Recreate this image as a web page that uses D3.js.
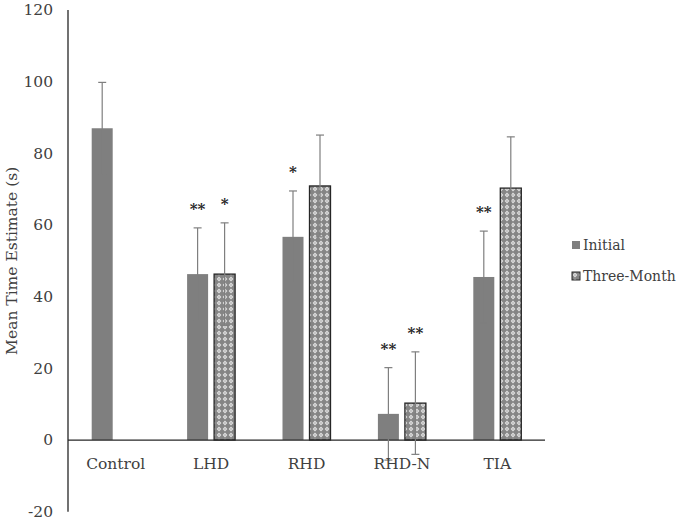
<!DOCTYPE html>
<html>
<head>
<meta charset="utf-8">
<script src="https://cdn.jsdelivr.net/npm/d3@7"></script>
<style>
  body { margin: 0; background: #fff; }
  text { font-family: "DejaVu Serif", serif; fill: #404040; }
</style>
</head>
<body>
<div id="chart"></div>
<script>
// data
var groups = ["Control", "LHD", "RHD", "RHD-N", "TIA"];
var initialMean = [87, 46.3, 56.7, 7.3, 45.5];
var initialErr = [12.8, 12.9, 12.8, 12.9, 12.8];
var threeMean = [null, 46.3, 70.9, 10.3, 70.3];
var threeErr = [null, 14.3, 14.2, 14.3, 14.3];
var initialStars = ["", "**", "*", "**", "**"];
var threeStars = ["", "*", "", "**", ""];
var yTicks = [-20, 0, 20, 40, 60, 80, 100, 120];
var seriesNames = ["Initial", "Three-Month"];

var width = 685, height = 523;

var svg = d3.select("#chart").append("svg")
	.attr("width", width)
	.attr("height", height);

var defs = svg.append("defs");
var pat = defs.append("pattern")
	.attr("id", "checks")
	.attr("patternUnits", "userSpaceOnUse")
	.attr("width", 6)
	.attr("height", 6);
pat.append("rect").attr("width", 6).attr("height", 6).attr("fill", "#858585");
pat.append("path")
	.attr("d", "M3,0.6 L5.4,3 L3,5.4 L0.6,3 Z")
	.attr("fill", "#e0e0e0");
pat.append("rect").attr("x", 2.4).attr("y", 2.4).attr("width", 1.2).attr("height", 1.2).attr("fill", "#9a9a9a");

var x = d3.scaleBand()
	.domain(groups)
	.range([68, 545]);

var y = d3.scaleLinear()
	.domain([-20, 120])
	.range([511.7, 10]);

var barW = 21, gap = 6;

// y axis line
svg.append("line")
	.attr("x1", 68).attr("x2", 68)
	.attr("y1", y(120)).attr("y2", y(-20))
	.attr("stroke", "#262626").attr("stroke-width", 1.3);

// y tick labels
svg.selectAll(".ytick")
	.data(yTicks)
	.enter()
	.append("text")
	.attr("x", 53)
	.attr("y", function(d) { return y(d); })
	.attr("dy", "0.35em")
	.attr("text-anchor", "end")
	.style("font-size", "15.5px")
	.text(function(d) { return d; });

// y axis title
svg.append("text")
	.attr("transform", "translate(17," + y(50) + ") rotate(-90)")
	.attr("text-anchor", "middle")
	.style("font-size", "15.5px")
	.text("Mean Time Estimate (s)");

function xInit(i) { return x(groups[i]) + x.bandwidth() / 2 - gap / 2 - barW; }
function xThree(i) { return x(groups[i]) + x.bandwidth() / 2 + gap / 2; }

var idx = d3.range(groups.length);

// initial bars
svg.selectAll(".bar-init")
	.data(idx)
	.enter()
	.append("rect")
	.attr("x", function(i) { return xInit(i); })
	.attr("y", function(i) { return y(initialMean[i]); })
	.attr("width", barW)
	.attr("height", function(i) { return y(0) - y(initialMean[i]); })
	.attr("fill", "#7f7f7f");

// three-month bars
var idx3 = idx.filter(function(i) { return threeMean[i] != null; });
svg.selectAll(".bar-three")
	.data(idx3)
	.enter()
	.append("rect")
	.attr("x", function(i) { return xThree(i); })
	.attr("y", function(i) { return y(threeMean[i]); })
	.attr("width", barW)
	.attr("height", function(i) { return y(0) - y(threeMean[i]); })
	.attr("fill", "url(#checks)")
	.attr("stroke", "#262626")
	.attr("stroke-width", 1.3);

// x axis line
svg.append("line")
	.attr("x1", 68).attr("x2", 545)
	.attr("y1", y(0)).attr("y2", y(0))
	.attr("stroke", "#262626").attr("stroke-width", 1.3);

// error bars
function drawErr(cls, ids, xf, mean, err) {
	var g = svg.selectAll("." + cls)
		.data(ids)
		.enter()
		.append("g")
		.attr("stroke", "#7f7f7f")
		.attr("stroke-width", 1.2);
	g.append("line")
		.attr("x1", function(i) { return xf(i) + barW / 2; })
		.attr("x2", function(i) { return xf(i) + barW / 2; })
		.attr("y1", function(i) { return y(mean[i] + err[i]); })
		.attr("y2", function(i) { return y(mean[i] - err[i]); });
	[1, -1].forEach(function(s) {
		g.append("line")
			.attr("x1", function(i) { return xf(i) + barW / 2 - 4; })
			.attr("x2", function(i) { return xf(i) + barW / 2 + 4; })
			.attr("y1", function(i) { return y(mean[i] + s * err[i]); })
			.attr("y2", function(i) { return y(mean[i] + s * err[i]); });
	});
}
drawErr("err-init", idx, xInit, initialMean, initialErr);
drawErr("err-three", idx3, xThree, threeMean, threeErr);

// significance stars
svg.selectAll(".star-init")
	.data(idx.filter(function(i) { return initialStars[i]; }))
	.enter()
	.append("text")
	.attr("x", function(i) { return xInit(i) + barW / 2; })
	.attr("y", function(i) { return y(initialMean[i] + initialErr[i]) - 14; })
	.attr("text-anchor", "middle")
	.style("font-size", "15px")
	.style("font-weight", "bold")
	.style("fill", "#262626")
	.text(function(i) { return initialStars[i]; });

svg.selectAll(".star-three")
	.data(idx3.filter(function(i) { return threeStars[i]; }))
	.enter()
	.append("text")
	.attr("x", function(i) { return xThree(i) + barW / 2; })
	.attr("y", function(i) { return y(threeMean[i] + threeErr[i]) - 14; })
	.attr("text-anchor", "middle")
	.style("font-size", "15px")
	.style("font-weight", "bold")
	.style("fill", "#262626")
	.text(function(i) { return threeStars[i]; });

// category labels
svg.selectAll(".xlab")
	.data(groups)
	.enter()
	.append("text")
	.attr("x", function(d) { return x(d) + x.bandwidth() / 2; })
	.attr("y", y(0) + 29)
	.attr("text-anchor", "middle")
	.style("font-size", "15.5px")
	.text(function(d) { return d; });

// legend
var leg = svg.selectAll(".leg")
	.data(seriesNames)
	.enter()
	.append("g")
	.attr("transform", function(d, i) { return "translate(572," + (241 + i * 31) + ")"; });
leg.append("rect")
	.attr("width", 8).attr("height", 8)
	.attr("fill", function(d, i) { return i === 0 ? "#7f7f7f" : "url(#checks)"; })
	.attr("stroke", function(d, i) { return i === 0 ? "none" : "#262626"; });
leg.append("text")
	.attr("x", 11)
	.attr("y", 4)
	.attr("dy", "0.35em")
	.style("font-size", "14px")
	.text(function(d) { return d; });
</script>
</body>
</html>
